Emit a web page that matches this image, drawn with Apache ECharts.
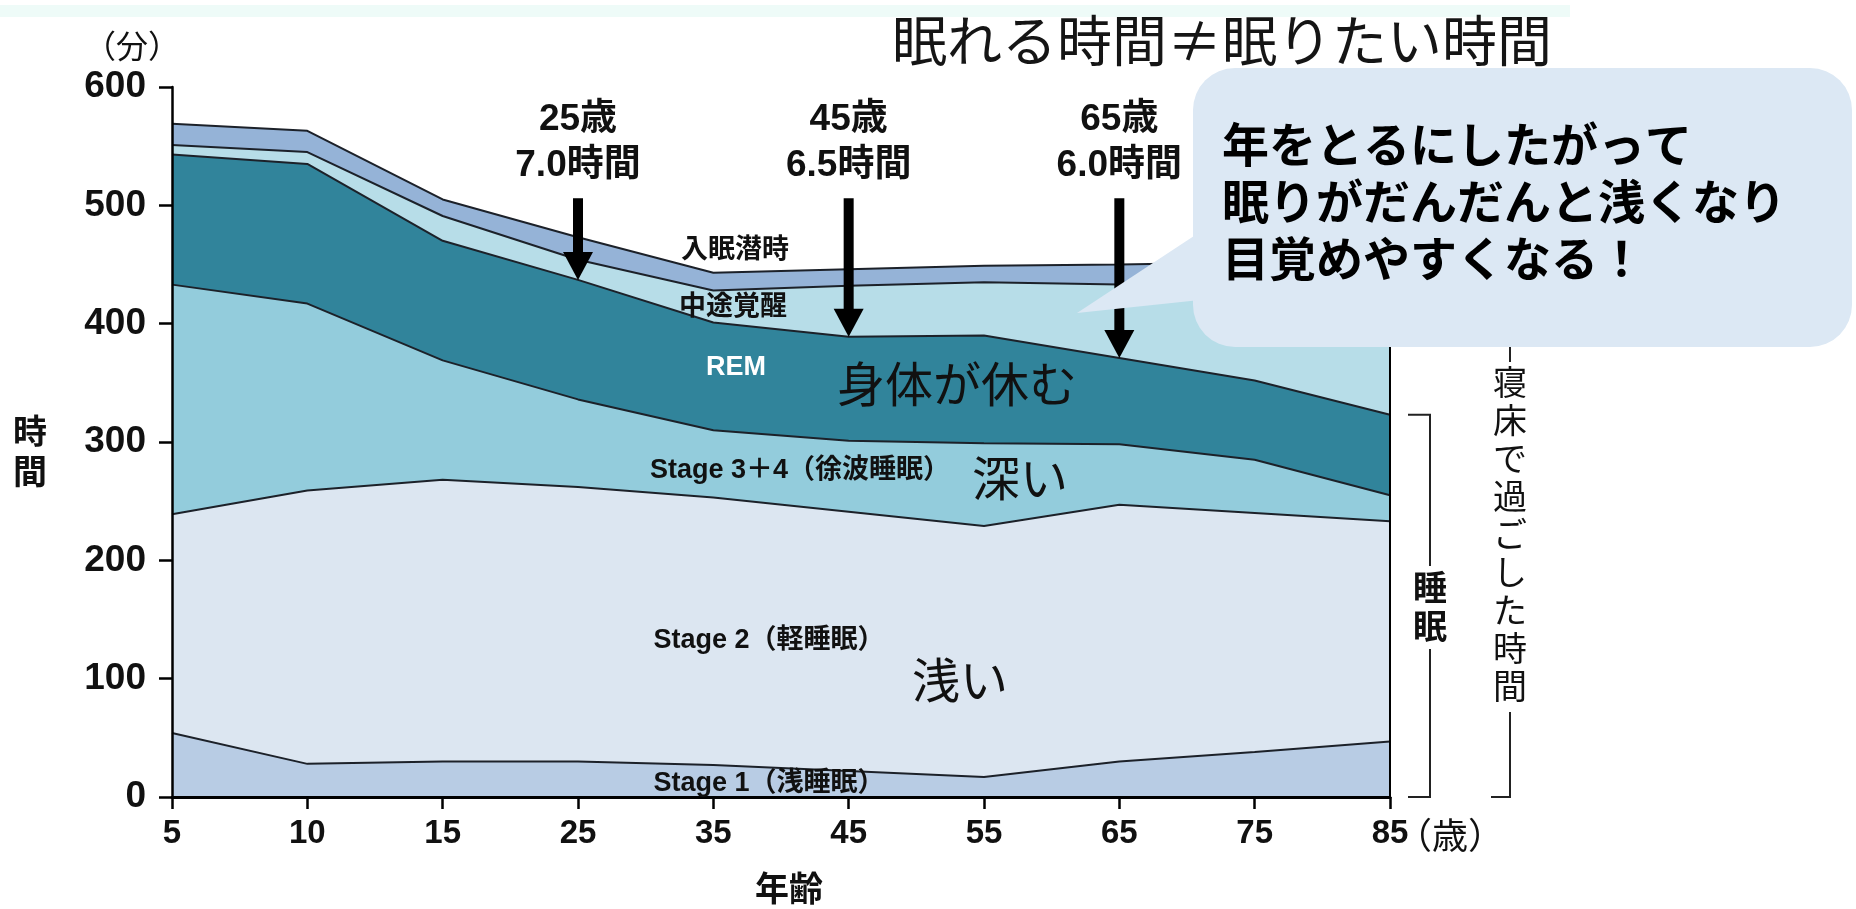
<!DOCTYPE html>
<html lang="ja">
<head>
<meta charset="utf-8">
<title>眠れる時間≠眠りたい時間</title>
<script src="https://cdn.jsdelivr.net/npm/echarts@6/dist/echarts.min.js"></script>
<style>
html, body { margin: 0; padding: 0; background: #fff; }
#main { width: 1856px; height: 909px; }
</style>
</head>
<body>
<div id="main"></div>
<script>
// 年齢（横軸）
var ages = ['5', '10', '15', '25', '35', '45', '55', '65', '75', '85'];
// 各段階の時間（分）、下から積み上げ
var stage1  = [54, 28, 30, 30, 27, 22, 17, 30, 38, 47];        // Stage 1（浅睡眠）
var stage2  = [185, 231, 238, 232, 226, 219, 212, 217, 202, 186]; // Stage 2（軽睡眠）
var stage34 = [194, 158, 101, 74, 57, 60, 70, 51, 45, 22];     // Stage 3+4（徐波睡眠）
var rem     = [110, 118, 101, 101, 91, 88, 91, 73, 67, 68];    // REM
var waso    = [8, 10, 21, 17, 27, 43, 45, 62, 83, 115];        // 中途覚醒
var latency = [18, 18, 14, 19, 15, 14, 14, 17, 17, 17];        // 入眠潜時
// 矢印の注記
var arrowAges   = ['25', '45', '65'];
var arrowLabels = ['25歳\n7.0時間', '45歳\n6.5時間', '65歳\n6.0時間'];

var FONT = "'Liberation Sans', 'Noto Sans CJK JP', sans-serif";
var JP = "'Noto Sans CJK JP', sans-serif";
var LINE = '#1c2129';

function layer(name, data, color, z) {
    return {
        name: name,
        type: 'line',
        stack: 'total',
        data: data,
        z: z,
        symbol: 'none',
        lineStyle: { color: LINE, width: 2 },
        areaStyle: { color: color, opacity: 1 },
        itemStyle: { color: color },
        emphasis: { disabled: true },
        silent: true
    };
}

var chart = echarts.init(document.getElementById('main'));
chart.setOption({
    animation: false,
    grid: { left: 172, right: 466, top: 87, bottom: 112 },
    xAxis: {
        type: 'category',
        data: ages,
        boundaryGap: false,
        z: 20,
        axisLine: { lineStyle: { color: '#000', width: 3 } },
        axisTick: { alignWithLabel: true, length: 12, lineStyle: { color: '#000', width: 2.5 }, interval: 0 },
        axisLabel: { interval: 0, margin: 20, color: '#111', fontSize: 33, fontWeight: 'bold', fontFamily: FONT },
        splitLine: { show: false }
    },
    yAxis: [{
        type: 'value',
        min: 0, max: 600, interval: 100,
        z: 20,
        axisLine: { show: true, lineStyle: { color: '#000', width: 2.5 } },
        axisTick: { show: true, length: 13, lineStyle: { color: '#000', width: 2.5 } },
        axisLabel: { margin: 26, color: '#111', fontSize: 37, fontWeight: 'bold', fontFamily: FONT },
        splitLine: { show: false }
    }, {
        type: 'value',
        position: 'right',
        min: 0, max: 600, interval: 100,
        z: 20,
        axisLine: { show: true, lineStyle: { color: '#000', width: 2 } },
        axisTick: { show: false },
        axisLabel: { show: false },
        splitLine: { show: false }
    }],
    series: [
        layer('Stage 1', stage1, '#b8cce4', 9),
        layer('Stage 2', stage2, '#dce6f1', 8),
        layer('Stage 3+4', stage34, '#93ccdc', 7),
        layer('REM', rem, '#31849b', 6),
        layer('中途覚醒', waso, '#b7dde8', 5),
        layer('入眠潜時', latency, '#95b3d7', 4)
    ]
});

// 積み上げの上端（指定した層まで）
function stackTop(i, layers) {
    var s = 0;
    layers.forEach(function (arr) { s += arr[i]; });
    return s;
}
function px(age, v) {
    return chart.convertToPixel({ xAxisIndex: 0, yAxisIndex: 0 }, [age, v]);
}

var graphics = [];

// 上部の帯とタイトル
graphics.push({ type: 'rect', z: 50, shape: { x: 0, y: 5, width: 1570, height: 12 }, style: { fill: '#eefbf8' } });
graphics.push({ type: 'text', z: 50, x: 1222, y: 40, style: { text: '眠れる時間≠眠りたい時間', fill: '#151515', fontSize: 55, fontFamily: JP, align: 'center', verticalAlign: 'middle' } });

// 軸まわりの文字
graphics.push({ type: 'text', z: 50, x: 132, y: 46, style: { text: '（分）', fill: '#111', fontSize: 32, fontFamily: JP, align: 'center', verticalAlign: 'middle' } });
graphics.push({ type: 'text', z: 50, x: 30, y: 451, style: { text: '時\n間', fill: '#111', fontSize: 34, fontWeight: 'bold', lineHeight: 40, fontFamily: JP, align: 'center', verticalAlign: 'middle' } });
graphics.push({ type: 'text', z: 50, x: 789, y: 888, style: { text: '年齢', fill: '#111', fontSize: 34, fontWeight: 'bold', fontFamily: JP, align: 'center', verticalAlign: 'middle' } });
graphics.push({ type: 'text', z: 50, x: 1396, y: 835, style: { text: '（歳）', fill: '#111', fontSize: 36, fontFamily: JP, align: 'left', verticalAlign: 'middle' } });

// 層のラベル
function label(t, x, y, size, weight, color, family) {
    graphics.push({ type: 'text', z: 40, x: x, y: y, style: { text: t, fill: color || '#111', fontSize: size, fontWeight: weight, fontFamily: family || FONT, align: 'center', verticalAlign: 'middle' } });
}
label('入眠潜時', 735, 251, 27, 'bold');
label('中途覚醒', 733, 308, 27, 'bold');
label('REM', 736, 368, 27, 'bold', '#fff');
label('身体が休む', 957, 384, 48, 'normal', '#111', JP);
label('Stage 3＋4（徐波睡眠）', 800, 471, 27, 'bold');
label('深い', 1020, 478, 48, 'normal', '#111', JP);
label('Stage 2（軽睡眠）', 769, 641, 27, 'bold');
label('浅い', 960, 680, 48, 'normal', '#111', JP);
label('Stage 1（浅睡眠）', 769, 784, 27, 'bold');

// 矢印（REMの上端を指す）
var ARROW_TOP = 506;
arrowAges.forEach(function (age, k) {
    var i = ages.indexOf(age);
    var tip = px(age, stackTop(i, [stage1, stage2, stage34, rem]));
    var top = px(age, ARROW_TOP);
    var x = tip[0];
    graphics.push({ type: 'rect', z: 45, shape: { x: x - 5, y: top[1], width: 10, height: tip[1] - top[1] - 26 }, style: { fill: '#000' } });
    graphics.push({ type: 'polygon', z: 45, shape: { points: [[x - 15, tip[1] - 28], [x + 15, tip[1] - 28], [x, tip[1]]] }, style: { fill: '#000' } });
    graphics.push({ type: 'text', z: 45, x: x, y: 143, style: { text: arrowLabels[k], fill: '#111', fontSize: 37, fontWeight: 'bold', lineHeight: 46, fontFamily: FONT, align: 'center', verticalAlign: 'middle' } });
});

// 右側の括弧
var last = ages.length - 1;
var y0 = px(ages[last], 0)[1];
var ySleep = px(ages[last], stackTop(last, [stage1, stage2, stage34, rem]))[1];
var yBed = px(ages[last], stackTop(last, [stage1, stage2, stage34, rem, waso, latency]))[1];
var br = { stroke: '#222', lineWidth: 2, fill: null };
graphics.push({ type: 'polyline', z: 40, shape: { points: [[1408, ySleep], [1430, ySleep], [1430, 566]] }, style: br });
graphics.push({ type: 'polyline', z: 40, shape: { points: [[1430, 649], [1430, y0], [1408, y0]] }, style: br });
graphics.push({ type: 'text', z: 40, x: 1430, y: 607, style: { text: '睡\n眠', fill: '#111', fontSize: 34, fontWeight: 'bold', lineHeight: 39, fontFamily: JP, align: 'center', verticalAlign: 'middle' } });
graphics.push({ type: 'polyline', z: 40, shape: { points: [[1491, yBed], [1510, yBed], [1510, 362]] }, style: br });
graphics.push({ type: 'polyline', z: 40, shape: { points: [[1510, 712], [1510, y0], [1491, y0]] }, style: br });
graphics.push({ type: 'text', z: 40, x: 1510, y: 534, style: { text: '寝\n床\nで\n過\nご\nし\nた\n時\n間', fill: '#111', fontSize: 34, lineHeight: 38, fontFamily: JP, align: 'center', verticalAlign: 'middle' } });

// 吹き出し
graphics.push({ type: 'rect', z: 60, shape: { x: 1193, y: 68, width: 659, height: 279, r: 42 }, style: { fill: '#dce8f4' } });
graphics.push({ type: 'polygon', z: 60, shape: { points: [[1077, 313], [1200, 232], [1200, 300]] }, style: { fill: '#dce8f4' } });
graphics.push({ type: 'text', z: 61, x: 1222, y: 201, style: { text: '年をとるにしたがって\n眠りがだんだんと浅くなり\n目覚めやすくなる！', fill: '#000', fontSize: 47, fontWeight: 'bold', lineHeight: 57, fontFamily: JP, align: 'left', verticalAlign: 'middle' } });

chart.setOption({ graphic: graphics });
</script>
</body>
</html>
